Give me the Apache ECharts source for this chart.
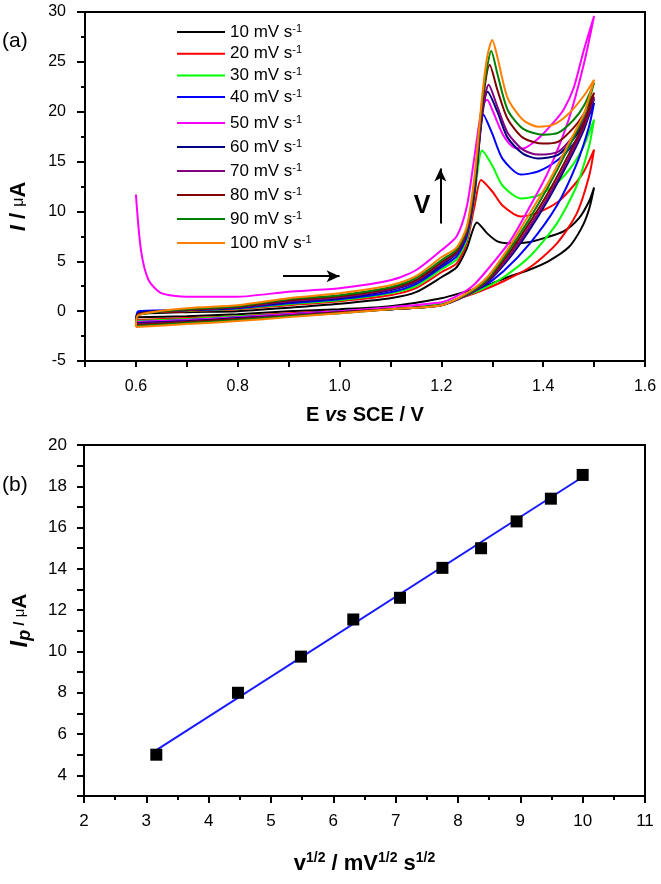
<!DOCTYPE html>
<html><head><meta charset="utf-8">
<script src="https://cdn.jsdelivr.net/npm/echarts@6/dist/echarts.min.js"></script>
<style>html,body{margin:0;padding:0;background:#fff}#c{width:661px;height:884px}</style>
</head><body><div id="c"></div>
<script>
// ---------- Panel (a): cyclic voltammograms (E / V , I / uA) ----------
const rateNames = ['10 mV s-1','20 mV s-1','30 mV s-1','40 mV s-1','50 mV s-1','60 mV s-1','70 mV s-1','80 mV s-1','90 mV s-1','100 mV s-1'];
const rateColors = ['#000000','#ff0000','#00ff00','#0000ff','#ff00ff','#000080','#800080','#800000','#008000','#ff8000'];

const E10 = [0.6,0.605,0.7,0.8,0.9,1.0,1.1,1.15,1.2,1.23,1.25,1.27,1.29,1.31,1.336,1.37,1.4,1.44,1.47,1.49,1.5, 1.49,1.475,1.45,1.41,1.37,1.33,1.29,1.25,1.2,1.1,1.0,0.9,0.8,0.7,0.6];
const I10 = [-0.6,-0.3,-0.1,0.0,0.35,0.75,1.3,1.9,3.4,4.4,6.3,8.9,7.8,7.0,6.8,6.9,7.3,8.0,9.3,11.0,12.4, 10.2,8.3,6.4,5.0,4.1,3.4,2.6,2.0,1.3,0.5,0.2,0.0,-0.3,-0.5,-0.6];

const E20 = [0.6,0.605,0.7,0.8,0.9,1.0,1.1,1.15,1.2,1.23,1.25,1.265,1.278,1.30,1.32,1.356,1.39,1.43,1.46,1.48,1.5, 1.49,1.466,1.427,1.374,1.322,1.276,1.23,1.2,1.1,1.0,0.9,0.8,0.7,0.6];
const I20 = [-0.9,-0.2,0.0,0.2,0.6,1.0,1.6,2.3,3.9,4.8,6.9,10.5,13.15,12.0,10.6,9.5,9.9,11.0,12.6,14.0,16.2, 13.5,9.8,6.8,4.4,3.0,2.0,1.2,0.7,0.2,0.0,-0.2,-0.5,-0.7,-0.9];

const E30 = [0.6,0.605,0.7,0.8,0.9,1.0,1.1,1.15,1.2,1.23,1.25,1.265,1.28,1.30,1.32,1.356,1.39,1.43,1.46,1.48,1.5, 1.49,1.466,1.427,1.374,1.322,1.28,1.23,1.2,1.1,1.0,0.9,0.8,0.7,0.6];
const I30 = [-1.0,-0.1,0.05,0.25,0.7,1.1,1.8,2.5,4.2,5.2,7.2,11.5,16.1,14.6,12.6,11.3,11.6,13.0,14.8,16.6,19.2, 16.5,12.6,8.8,5.5,3.4,2.2,1.2,0.7,0.2,0.0,-0.3,-0.5,-0.8,-1.0];

const E40 = [0.6,0.605,0.7,0.8,0.9,1.0,1.1,1.15,1.2,1.23,1.25,1.265,1.283,1.30,1.32,1.356,1.39,1.43,1.46,1.48,1.5, 1.49,1.466,1.427,1.374,1.322,1.28,1.23,1.2,1.1,1.0,0.9,0.8,0.7,0.6];
const I40 = [-1.1,0.0,0.1,0.3,0.8,1.2,1.9,2.7,4.4,5.5,7.5,11.8,19.7,17.8,15.3,13.7,14.0,15.2,16.8,18.5,20.9, 18.5,14.8,10.6,6.8,4.0,2.4,1.2,0.6,0.2,0.0,-0.3,-0.6,-0.9,-1.1];

const E50 = [0.6,0.61,0.625,0.65,0.7,0.8,0.9,1.0,1.1,1.15,1.2,1.23,1.25,1.265,1.28,1.29,1.30,1.32,1.34,1.36,1.39,1.42,1.44,1.46,1.48,1.5, 1.48,1.45,1.41,1.374,1.336,1.296,1.263,1.23,1.2,1.1,1.0,0.9,0.8,0.7,0.6];
const I50 = [11.7,6.1,3.1,1.8,1.45,1.45,1.95,2.3,3.1,4.1,6.1,7.5,10.5,15.5,20.5,21.2,20.2,17.8,16.5,16.3,17.3,18.9,20.2,22.4,26.2,29.6, 24.8,19.2,14.0,10.5,7.1,4.5,2.6,1.5,0.9,0.4,0.0,-0.3,-0.6,-0.9,-1.1];

const E60 = [0.6,0.605,0.7,0.8,0.9,1.0,1.1,1.15,1.2,1.23,1.25,1.265,1.28,1.291,1.31,1.33,1.36,1.39,1.43,1.46,1.48,1.5, 1.48,1.45,1.41,1.37,1.33,1.29,1.25,1.2,1.1,1.0,0.9,0.8,0.7,0.6];
const I60 = [-1.2,-0.2,0.1,0.35,0.9,1.3,2.1,2.9,4.6,5.8,7.8,12.0,19.5,22.0,20.0,17.4,15.8,15.3,15.7,17.3,19.0,21.3, 18.2,15.0,11.2,7.9,5.1,2.9,1.6,0.6,0.2,-0.1,-0.4,-0.7,-1.0,-1.2];

const E70 = [0.6,0.605,0.7,0.8,0.9,1.0,1.1,1.15,1.2,1.23,1.25,1.265,1.28,1.293,1.31,1.33,1.36,1.39,1.43,1.46,1.48,1.5, 1.48,1.45,1.41,1.37,1.33,1.29,1.25,1.2,1.1,1.0,0.9,0.8,0.7,0.6];
const I70 = [-1.3,-0.3,0.1,0.4,1.0,1.4,2.2,3.0,4.8,5.9,7.9,12.2,19.8,22.7,20.5,17.9,16.2,15.7,16.0,17.6,19.2,21.5, 18.5,15.3,11.5,8.2,5.3,3.0,1.6,0.6,0.2,-0.1,-0.4,-0.8,-1.1,-1.3];

const E80 = [0.6,0.605,0.7,0.8,0.9,1.0,1.1,1.15,1.2,1.23,1.25,1.265,1.28,1.295,1.31,1.33,1.36,1.40,1.43,1.46,1.48,1.5, 1.48,1.45,1.41,1.37,1.33,1.29,1.25,1.2,1.1,1.0,0.9,0.8,0.7,0.6];
const I80 = [-1.4,-0.3,0.15,0.45,1.1,1.5,2.3,3.1,4.9,6.0,8.1,12.6,20.5,24.7,22.2,19.3,17.4,16.8,17.0,18.4,19.8,21.9, 18.8,15.7,11.9,8.6,5.6,3.1,1.7,0.6,0.2,-0.1,-0.5,-0.8,-1.1,-1.4];

const E90 = [0.6,0.605,0.7,0.8,0.9,1.0,1.1,1.15,1.2,1.23,1.25,1.265,1.28,1.29,1.298,1.31,1.33,1.36,1.40,1.43,1.46,1.48,1.5, 1.48,1.45,1.41,1.37,1.33,1.29,1.25,1.2,1.1,1.0,0.9,0.8,0.7,0.6];
const I90 = [-1.5,-0.4,0.2,0.5,1.2,1.6,2.4,3.3,5.1,6.2,8.3,13.0,21.0,24.5,26.1,23.8,20.2,18.3,17.7,17.9,19.2,20.6,22.9, 19.6,16.4,12.5,9.0,5.9,3.2,1.7,0.6,0.2,-0.2,-0.5,-0.9,-1.2,-1.5];

const E100 = [0.6,0.605,0.7,0.8,0.9,1.0,1.1,1.15,1.2,1.23,1.25,1.265,1.28,1.29,1.30,1.31,1.33,1.36,1.39,1.42,1.45,1.48,1.5, 1.48,1.45,1.41,1.37,1.33,1.29,1.25,1.2,1.1,1.0,0.9,0.8,0.7,0.6];
const I100 = [-1.6,-0.4,0.3,0.6,1.3,1.8,2.6,3.5,5.4,6.4,8.5,13.5,21.5,25.5,27.2,25.5,21.4,19.2,18.5,18.7,19.8,21.6,23.2, 19.8,16.8,12.9,9.5,6.2,3.4,1.8,0.6,0.2,-0.2,-0.6,-1.0,-1.3,-1.6];

const cvE = [E10,E20,E30,E40,E50,E60,E70,E80,E90,E100];
const cvI = [I10,I20,I30,I40,I50,I60,I70,I80,I90,I100];

// annotation arrows (data coordinates of panel a)
const scanArrowE = [0.889, 1.0];
const scanArrowI = [3.5, 3.5];
const rateArrowE = [1.198, 1.198];
const rateArrowI = [8.8, 14.3];
const rateLabelPos = [1.162, 10.55];

// ---------- Panel (b): peak current vs sqrt(scan rate) ----------
const sqrtV = [3.16, 4.47, 5.48, 6.32, 7.07, 7.75, 8.37, 8.94, 9.49, 10.0];
const Ip = [5.0, 8.0, 9.75, 11.55, 12.6, 14.05, 15.0, 16.3, 17.4, 18.55];
const fitX = [3.16, 10.0];
const fitY = [5.22, 18.45];

const FONT = 'Liberation Sans, Arial, Helvetica, sans-serif';
const chart = echarts.init(document.getElementById('c'));

const cvSeries = rateNames.map((n, k) => ({
  name: n, type: 'line', xAxisIndex: 0, yAxisIndex: 0,
  data: cvE[k].map((e, i) => [e, cvI[k][i]]),
  symbol: 'none', showSymbol: false, smooth: 0.25,
  lineStyle: {color: rateColors[k], width: 2},
  itemStyle: {color: rateColors[k]},
  z: 2 + k
}));

const legendRich = {
  a: {fontSize: 17, fontFamily: FONT, color: '#000', lineHeight: 18},
  s: {fontSize: 11, fontFamily: FONT, color: '#000', lineHeight: 9, verticalAlign: 'top'}
};
const legendFmt = name => '{a|' + name.replace(' s-1', ' s') + '}{s|-1}';
const lineIcon = 'path://M0,0L0.01,0L0.01,0.01Z M0,8L48,8L48,10L0,10Z M0,18L0.01,18L0.01,17.99Z';
const legendBase = {
  orient: 'vertical', left: 172, itemWidth: 48, itemHeight: 18, icon: lineIcon,
  formatter: legendFmt, textStyle: {rich: legendRich, fontFamily: FONT},
  selectedMode: false
};

function tick(len) { return {show: true, inside: false, length: len, lineStyle: {color: '#000', width: 2, opacity: 1}}; }
const axisLineStyle = {show: true, onZero: false, lineStyle: {color: '#000', width: 2}};

const option = {
  animation: false,
  backgroundColor: '#fff',
  textStyle: {fontFamily: FONT},
  grid: [
    {left: 83, top: 12, width: 562, height: 349, show: true, borderColor: '#000', borderWidth: 2, backgroundColor: 'transparent', z: 0},
    {left: 82, top: 445, width: 563, height: 351, show: true, borderColor: '#000', borderWidth: 2, backgroundColor: 'transparent', z: 0}
  ],
  legend: [
    Object.assign({}, legendBase, {top: 18, itemGap: 3.7, data: rateNames.slice(0, 4)}),
    Object.assign({}, legendBase, {top: 109, itemGap: 6, data: rateNames.slice(4)})
  ],
  xAxis: [
    {
      gridIndex: 0, type: 'value', min: 0.5, max: 1.6, interval: 0.1, z: 5,
      axisLine: axisLineStyle, axisTick: tick(6), splitLine: {show: false},
      axisLabel: {show: true, color: '#000', fontSize: 16, fontFamily: FONT, margin: 18,
        formatter: v => { const k = Math.round(v * 10); return k % 2 === 0 ? (k / 10).toFixed(1) : ''; }},
      name: '{b|E }{i|vs}{b| SCE / V}', nameLocation: 'middle', nameGap: 44,
      nameTextStyle: {rich: {
        b: {fontSize: 20, fontWeight: 'bold', color: '#000', fontFamily: FONT},
        i: {fontSize: 20, fontWeight: 'bold', fontStyle: 'italic', color: '#000', fontFamily: FONT}}}
    },
    {
      gridIndex: 1, type: 'value', min: 2, max: 11, interval: 1, z: 5,
      axisLine: axisLineStyle, axisTick: tick(7), splitLine: {show: false},
      minorTick: {show: true, splitNumber: 2, length: 4, lineStyle: {color: '#000', width: 2}},
      axisLabel: {show: true, color: '#000', fontSize: 17, fontFamily: FONT, margin: 17},
      name: '{b|v}{s|1/2}{b| / mV}{s|1/2}{b| s}{s|1/2}', nameLocation: 'middle', nameGap: 55,
      nameTextStyle: {rich: {
        b: {fontSize: 22, fontWeight: 'bold', color: '#000', fontFamily: FONT, lineHeight: 26},
        s: {fontSize: 14, fontWeight: 'bold', color: '#000', fontFamily: FONT, lineHeight: 14, verticalAlign: 'top'}}}
    }
  ],
  yAxis: [
    {
      gridIndex: 0, type: 'value', min: -5, max: 30, interval: 5, z: 5,
      axisLine: axisLineStyle, axisTick: tick(8), splitLine: {show: false},
      minorTick: {show: true, splitNumber: 2, length: 4, lineStyle: {color: '#000', width: 2}},
      axisLabel: {show: true, color: '#000', fontSize: 16, fontFamily: FONT, margin: 19},
      name: '{i|I}{b| / }{m|μ}{b|A}', nameLocation: 'middle', nameRotate: 90, nameGap: 55,
      nameTextStyle: {padding: [0, 40, 0, 0], rich: {
        i: {fontSize: 22, fontWeight: 'bold', fontStyle: 'italic', color: '#000', fontFamily: FONT},
        b: {fontSize: 22, fontWeight: 'bold', color: '#000', fontFamily: FONT},
        m: {fontSize: 16, color: '#000', fontFamily: FONT}}}
    },
    {
      gridIndex: 1, type: 'value', min: 3, max: 20, interval: 1, z: 5,
      axisLine: axisLineStyle, axisTick: tick(7), splitLine: {show: false},
      axisLabel: {show: true, color: '#000', fontSize: 17, fontFamily: FONT, margin: 17,
        formatter: v => (Math.round(v) % 2 === 0 ? String(Math.round(v)) : '')},
      name: '{i|I}{p|p}{s| / }{m|μ}{b|A}', nameLocation: 'middle', nameRotate: 90, nameGap: 50,
      nameTextStyle: {rich: {
        i: {fontSize: 24, fontWeight: 'bold', fontStyle: 'italic', color: '#000', fontFamily: FONT, lineHeight: 28},
        p: {fontSize: 18, fontWeight: 'bold', fontStyle: 'italic', color: '#000', fontFamily: FONT, lineHeight: 14, verticalAlign: 'bottom'},
        s: {fontSize: 15, fontWeight: 'bold', color: '#000', fontFamily: FONT},
        m: {fontSize: 15, color: '#000', fontFamily: FONT},
        b: {fontSize: 21, fontWeight: 'bold', color: '#000', fontFamily: FONT}}}
    }
  ],
  graphic: [
    {type: 'text', left: 2, top: 31, style: {text: '(a)', fontSize: 21, fontFamily: FONT, fill: '#000'}},
    {type: 'text', left: 2, top: 475, style: {text: '(b)', fontSize: 21, fontFamily: FONT, fill: '#000'}}
  ],
  series: cvSeries.concat([
    {
      name: 'annotations', type: 'line', xAxisIndex: 0, yAxisIndex: 0, data: [], symbol: 'none',
      markLine: {
        silent: true, symbol: ['none', 'arrow'], symbolSize: [9, 13], label: {show: false},
        lineStyle: {color: '#000', width: 2, type: 'solid'},
        data: [
          [{coord: [scanArrowE[0], scanArrowI[0]]}, {coord: [scanArrowE[1], scanArrowI[1]]}],
          [{coord: [rateArrowE[0], rateArrowI[0]]}, {coord: [rateArrowE[1], rateArrowI[1]]}]
        ]
      }
    },
    {
      name: 'rateLabel', type: 'scatter', xAxisIndex: 0, yAxisIndex: 0, symbolSize: 0, silent: true,
      data: [rateLabelPos], itemStyle: {opacity: 1, color: '#000'},
      label: {show: true, position: 'inside', formatter: 'V', fontSize: 25, fontWeight: 'bold', color: '#000', opacity: 1, fontFamily: FONT}
    },
    {
      name: 'fit', type: 'line', xAxisIndex: 1, yAxisIndex: 1, symbol: 'none',
      data: fitX.map((x, i) => [x, fitY[i]]),
      lineStyle: {color: '#1a1aff', width: 2}, z: 3
    },
    {
      name: 'Ip', type: 'scatter', xAxisIndex: 1, yAxisIndex: 1, symbol: 'rect', symbolSize: 12,
      data: sqrtV.map((x, i) => [x, Ip[i]]),
      itemStyle: {color: '#000', opacity: 1, borderWidth: 0}, z: 4
    }
  ])
};
chart.setOption(option);
</script></body></html>
